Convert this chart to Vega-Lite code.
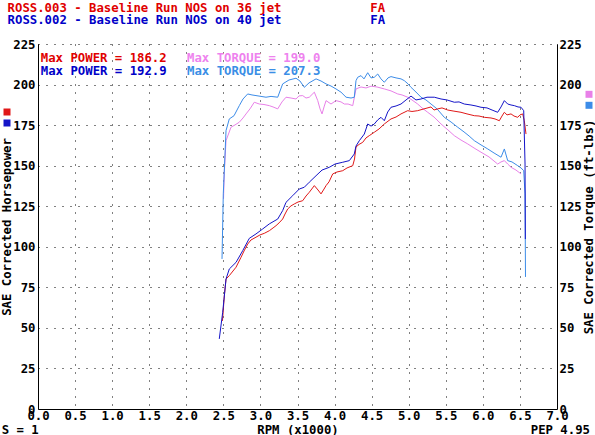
{
  "$schema": "https://vega.github.io/schema/vega-lite/v6.json",
  "width": 519,
  "height": 365,
  "autosize": {"type": "none"},
  "padding": {"left": 38, "top": 44, "right": 38, "bottom": 26},
  "background": "white",
  "title": {
    "text": "ROSS.003 - Baseline Run NOS on 36 jet\u00a0\u00a0\u00a0\u00a0\u00a0\u00a0\u00a0\u00a0\u00a0\u00a0\u00a0\u00a0FA",
    "subtitle": "ROSS.002 - Baseline Run NOS on 40 jet\u00a0\u00a0\u00a0\u00a0\u00a0\u00a0\u00a0\u00a0\u00a0\u00a0\u00a0\u00a0FA",
    "anchor": "start",
    "frame": "group",
    "dx": -30.4,
    "offset": 11.8,
    "font": "DejaVu Sans Mono",
    "fontSize": 12.3,
    "fontWeight": "bold",
    "color": "#e00000",
    "subtitleFont": "DejaVu Sans Mono",
    "subtitleFontSize": 12.3,
    "subtitleFontWeight": "bold",
    "subtitleColor": "#0000c8",
    "subtitlePadding": -0.5
  },
  "config": {
    "view": {"stroke": null},
    "font": "DejaVu Sans Mono",
    "axis": {
      "labelFont": "DejaVu Sans Mono",
      "labelFontSize": 12.3,
      "labelFontWeight": "bold",
      "labelColor": "#000",
      "titleFont": "DejaVu Sans Mono",
      "titleFontSize": 12.3,
      "titleFontWeight": "bold",
      "titleColor": "#000",
      "domainColor": "#000",
      "domainWidth": 1,
      "ticks": false,
      "labelFlush": false,
      "labelOverlap": false,
      "labelBound": false,
      "gridColor": "#000",
      "gridDash": [1, 7],
      "gridWidth": 1,
      "gridOpacity": 1
    }
  },
  "datasets": {
    "power": [
      {"run":"ROSS.003","rpm":2.488,"hp":54.3},{"run":"ROSS.003","rpm":2.513,"hp":69.7},{"run":"ROSS.003","rpm":2.536,"hp":80.1},{"run":"ROSS.003","rpm":2.58,"hp":82.2},{"run":"ROSS.003","rpm":2.671,"hp":87.4},{"run":"ROSS.003","rpm":2.738,"hp":93.5},{"run":"ROSS.003","rpm":2.779,"hp":97.4},{"run":"ROSS.003","rpm":2.828,"hp":101.7},{"run":"ROSS.003","rpm":2.873,"hp":104.2},{"run":"ROSS.003","rpm":2.94,"hp":105.9},{"run":"ROSS.003","rpm":2.994,"hp":107.3},{"run":"ROSS.003","rpm":3.052,"hp":108.3},{"run":"ROSS.003","rpm":3.12,"hp":109.9},{"run":"ROSS.003","rpm":3.17,"hp":111.6},{"run":"ROSS.003","rpm":3.21,"hp":113.0},{"run":"ROSS.003","rpm":3.251,"hp":114.7},{"run":"ROSS.003","rpm":3.3,"hp":117.1},{"run":"ROSS.003","rpm":3.332,"hp":120.2},{"run":"ROSS.003","rpm":3.368,"hp":123.3},{"run":"ROSS.003","rpm":3.412,"hp":125.2},{"run":"ROSS.003","rpm":3.457,"hp":126.4},{"run":"ROSS.003","rpm":3.507,"hp":127.6},{"run":"ROSS.003","rpm":3.57,"hp":128.4},{"run":"ROSS.003","rpm":3.615,"hp":131.3},{"run":"ROSS.003","rpm":3.659,"hp":133.6},{"run":"ROSS.003","rpm":3.727,"hp":137.7},{"run":"ROSS.003","rpm":3.777,"hp":135.0},{"run":"ROSS.003","rpm":3.817,"hp":132.6},{"run":"ROSS.003","rpm":3.858,"hp":135.6},{"run":"ROSS.003","rpm":3.885,"hp":137.7},{"run":"ROSS.003","rpm":3.925,"hp":140.0},{"run":"ROSS.003","rpm":3.975,"hp":144.9},{"run":"ROSS.003","rpm":4.033,"hp":146.1},{"run":"ROSS.003","rpm":4.11,"hp":146.9},{"run":"ROSS.003","rpm":4.168,"hp":148.6},{"run":"ROSS.003","rpm":4.245,"hp":150.0},{"run":"ROSS.003","rpm":4.269,"hp":154.1},{"run":"ROSS.003","rpm":4.289,"hp":161.5},{"run":"ROSS.003","rpm":4.33,"hp":163.1},{"run":"ROSS.003","rpm":4.38,"hp":164.4},{"run":"ROSS.003","rpm":4.424,"hp":167.1},{"run":"ROSS.003","rpm":4.468,"hp":168.5},{"run":"ROSS.003","rpm":4.536,"hp":170.6},{"run":"ROSS.003","rpm":4.599,"hp":172.6},{"run":"ROSS.003","rpm":4.671,"hp":175.7},{"run":"ROSS.003","rpm":4.761,"hp":178.8},{"run":"ROSS.003","rpm":4.829,"hp":180.0},{"run":"ROSS.003","rpm":4.896,"hp":181.9},{"run":"ROSS.003","rpm":4.986,"hp":183.9},{"run":"ROSS.003","rpm":5.044,"hp":183.4},{"run":"ROSS.003","rpm":5.121,"hp":183.9},{"run":"ROSS.003","rpm":5.206,"hp":185.0},{"run":"ROSS.003","rpm":5.301,"hp":186.2},{"run":"ROSS.003","rpm":5.341,"hp":184.3},{"run":"ROSS.003","rpm":5.391,"hp":185.0},{"run":"ROSS.003","rpm":5.449,"hp":185.6},{"run":"ROSS.003","rpm":5.526,"hp":184.3},{"run":"ROSS.003","rpm":5.598,"hp":183.7},{"run":"ROSS.003","rpm":5.705,"hp":182.9},{"run":"ROSS.003","rpm":5.786,"hp":181.9},{"run":"ROSS.003","rpm":5.885,"hp":180.8},{"run":"ROSS.003","rpm":5.948,"hp":180.6},{"run":"ROSS.003","rpm":6.02,"hp":179.8},{"run":"ROSS.003","rpm":6.11,"hp":179.4},{"run":"ROSS.003","rpm":6.164,"hp":178.8},{"run":"ROSS.003","rpm":6.222,"hp":177.7},{"run":"ROSS.003","rpm":6.258,"hp":180.6},{"run":"ROSS.003","rpm":6.29,"hp":182.9},{"run":"ROSS.003","rpm":6.326,"hp":181.3},{"run":"ROSS.003","rpm":6.38,"hp":181.9},{"run":"ROSS.003","rpm":6.42,"hp":180.6},{"run":"ROSS.003","rpm":6.47,"hp":179.8},{"run":"ROSS.003","rpm":6.501,"hp":181.3},{"run":"ROSS.003","rpm":6.537,"hp":181.9},{"run":"ROSS.003","rpm":6.559,"hp":177.7},{"run":"ROSS.003","rpm":6.582,"hp":169.5},
      {"run":"ROSS.002","rpm":2.445,"hp":43.2},{"run":"ROSS.002","rpm":2.491,"hp":59.6},{"run":"ROSS.002","rpm":2.536,"hp":80.1},{"run":"ROSS.002","rpm":2.58,"hp":86.3},{"run":"ROSS.002","rpm":2.671,"hp":90.4},{"run":"ROSS.002","rpm":2.761,"hp":97.6},{"run":"ROSS.002","rpm":2.85,"hp":105.2},{"run":"ROSS.002","rpm":2.94,"hp":107.9},{"run":"ROSS.002","rpm":3.031,"hp":111.0},{"run":"ROSS.002","rpm":3.12,"hp":114.1},{"run":"ROSS.002","rpm":3.233,"hp":117.1},{"run":"ROSS.002","rpm":3.3,"hp":122.3},{"run":"ROSS.002","rpm":3.345,"hp":127.4},{"run":"ROSS.002","rpm":3.435,"hp":131.5},{"run":"ROSS.002","rpm":3.524,"hp":135.6},{"run":"ROSS.002","rpm":3.592,"hp":136.7},{"run":"ROSS.002","rpm":3.659,"hp":139.8},{"run":"ROSS.002","rpm":3.75,"hp":143.8},{"run":"ROSS.002","rpm":3.831,"hp":147.3},{"run":"ROSS.002","rpm":3.929,"hp":149.0},{"run":"ROSS.002","rpm":4.006,"hp":151.0},{"run":"ROSS.002","rpm":4.11,"hp":152.1},{"run":"ROSS.002","rpm":4.199,"hp":153.1},{"run":"ROSS.002","rpm":4.266,"hp":157.2},{"run":"ROSS.002","rpm":4.289,"hp":162.1},{"run":"ROSS.002","rpm":4.334,"hp":165.4},{"run":"ROSS.002","rpm":4.401,"hp":169.5},{"run":"ROSS.002","rpm":4.447,"hp":175.7},{"run":"ROSS.002","rpm":4.492,"hp":174.4},{"run":"ROSS.002","rpm":4.536,"hp":175.7},{"run":"ROSS.002","rpm":4.582,"hp":178.2},{"run":"ROSS.002","rpm":4.626,"hp":179.8},{"run":"ROSS.002","rpm":4.671,"hp":177.7},{"run":"ROSS.002","rpm":4.717,"hp":183.1},{"run":"ROSS.002","rpm":4.761,"hp":186.0},{"run":"ROSS.002","rpm":4.829,"hp":186.8},{"run":"ROSS.002","rpm":4.896,"hp":188.0},{"run":"ROSS.002","rpm":4.964,"hp":190.5},{"run":"ROSS.002","rpm":5.031,"hp":192.9},{"run":"ROSS.002","rpm":5.098,"hp":190.5},{"run":"ROSS.002","rpm":5.166,"hp":191.1},{"run":"ROSS.002","rpm":5.247,"hp":192.2},{"run":"ROSS.002","rpm":5.345,"hp":192.2},{"run":"ROSS.002","rpm":5.436,"hp":191.1},{"run":"ROSS.002","rpm":5.517,"hp":190.5},{"run":"ROSS.002","rpm":5.615,"hp":189.1},{"run":"ROSS.002","rpm":5.679,"hp":189.3},{"run":"ROSS.002","rpm":5.75,"hp":188.0},{"run":"ROSS.002","rpm":5.84,"hp":187.4},{"run":"ROSS.002","rpm":5.908,"hp":186.8},{"run":"ROSS.002","rpm":5.975,"hp":186.0},{"run":"ROSS.002","rpm":6.056,"hp":185.6},{"run":"ROSS.002","rpm":6.124,"hp":184.3},{"run":"ROSS.002","rpm":6.2,"hp":182.9},{"run":"ROSS.002","rpm":6.245,"hp":186.2},{"run":"ROSS.002","rpm":6.29,"hp":190.1},{"run":"ROSS.002","rpm":6.335,"hp":188.0},{"run":"ROSS.002","rpm":6.38,"hp":187.4},{"run":"ROSS.002","rpm":6.425,"hp":187.0},{"run":"ROSS.002","rpm":6.474,"hp":186.2},{"run":"ROSS.002","rpm":6.515,"hp":186.0},{"run":"ROSS.002","rpm":6.551,"hp":183.9},{"run":"ROSS.002","rpm":6.569,"hp":151.0},{"run":"ROSS.002","rpm":6.573,"hp":104.8}
    ],
    "torque": [
      {"run":"ROSS.003","rpm":2.502,"tq":129.5},{"run":"ROSS.003","rpm":2.513,"tq":145.9},{"run":"ROSS.003","rpm":2.536,"tq":165.4},{"run":"ROSS.003","rpm":2.603,"tq":173.7},{"run":"ROSS.003","rpm":2.657,"tq":175.1},{"run":"ROSS.003","rpm":2.715,"tq":176.8},{"run":"ROSS.003","rpm":2.765,"tq":179.4},{"run":"ROSS.003","rpm":2.806,"tq":181.9},{"run":"ROSS.003","rpm":2.859,"tq":185.0},{"run":"ROSS.003","rpm":2.917,"tq":189.1},{"run":"ROSS.003","rpm":2.985,"tq":188.0},{"run":"ROSS.003","rpm":3.048,"tq":187.7},{"run":"ROSS.003","rpm":3.12,"tq":187.0},{"run":"ROSS.003","rpm":3.17,"tq":186.2},{"run":"ROSS.003","rpm":3.233,"tq":185.0},{"run":"ROSS.003","rpm":3.291,"tq":189.3},{"run":"ROSS.003","rpm":3.345,"tq":192.2},{"run":"ROSS.003","rpm":3.413,"tq":191.7},{"run":"ROSS.003","rpm":3.48,"tq":191.1},{"run":"ROSS.003","rpm":3.52,"tq":193.0},{"run":"ROSS.003","rpm":3.57,"tq":193.2},{"run":"ROSS.003","rpm":3.615,"tq":191.7},{"run":"ROSS.003","rpm":3.659,"tq":192.2},{"run":"ROSS.003","rpm":3.727,"tq":195.3},{"run":"ROSS.003","rpm":3.773,"tq":190.1},{"run":"ROSS.003","rpm":3.804,"tq":185.0},{"run":"ROSS.003","rpm":3.831,"tq":181.9},{"run":"ROSS.003","rpm":3.858,"tq":186.2},{"run":"ROSS.003","rpm":3.885,"tq":190.1},{"run":"ROSS.003","rpm":3.952,"tq":188.0},{"run":"ROSS.003","rpm":4.019,"tq":190.1},{"run":"ROSS.003","rpm":4.087,"tq":189.3},{"run":"ROSS.003","rpm":4.132,"tq":188.0},{"run":"ROSS.003","rpm":4.182,"tq":188.0},{"run":"ROSS.003","rpm":4.245,"tq":187.0},{"run":"ROSS.003","rpm":4.289,"tq":197.3},{"run":"ROSS.003","rpm":4.357,"tq":198.5},{"run":"ROSS.003","rpm":4.424,"tq":197.9},{"run":"ROSS.003","rpm":4.492,"tq":199.0},{"run":"ROSS.003","rpm":4.573,"tq":198.5},{"run":"ROSS.003","rpm":4.671,"tq":197.3},{"run":"ROSS.003","rpm":4.761,"tq":196.1},{"run":"ROSS.003","rpm":4.852,"tq":194.2},{"run":"ROSS.003","rpm":4.91,"tq":193.6},{"run":"ROSS.003","rpm":4.986,"tq":192.2},{"run":"ROSS.003","rpm":5.044,"tq":190.5},{"run":"ROSS.003","rpm":5.121,"tq":188.0},{"run":"ROSS.003","rpm":5.179,"tq":185.6},{"run":"ROSS.003","rpm":5.256,"tq":182.9},{"run":"ROSS.003","rpm":5.341,"tq":180.0},{"run":"ROSS.003","rpm":5.436,"tq":175.7},{"run":"ROSS.003","rpm":5.53,"tq":172.0},{"run":"ROSS.003","rpm":5.615,"tq":168.5},{"run":"ROSS.003","rpm":5.705,"tq":165.8},{"run":"ROSS.003","rpm":5.796,"tq":163.4},{"run":"ROSS.003","rpm":5.881,"tq":160.9},{"run":"ROSS.003","rpm":5.975,"tq":158.3},{"run":"ROSS.003","rpm":6.083,"tq":155.4},{"run":"ROSS.003","rpm":6.2,"tq":151.0},{"run":"ROSS.003","rpm":6.245,"tq":152.3},{"run":"ROSS.003","rpm":6.29,"tq":153.1},{"run":"ROSS.003","rpm":6.335,"tq":151.0},{"run":"ROSS.003","rpm":6.38,"tq":149.0},{"run":"ROSS.003","rpm":6.447,"tq":147.3},{"run":"ROSS.003","rpm":6.515,"tq":144.9},
      {"run":"ROSS.002","rpm":2.482,"tq":92.5},{"run":"ROSS.002","rpm":2.499,"tq":132.6},{"run":"ROSS.002","rpm":2.536,"tq":171.6},{"run":"ROSS.002","rpm":2.58,"tq":178.8},{"run":"ROSS.002","rpm":2.644,"tq":180.8},{"run":"ROSS.002","rpm":2.715,"tq":187.0},{"run":"ROSS.002","rpm":2.765,"tq":191.1},{"run":"ROSS.002","rpm":2.828,"tq":194.2},{"run":"ROSS.002","rpm":2.886,"tq":193.6},{"run":"ROSS.002","rpm":2.94,"tq":193.2},{"run":"ROSS.002","rpm":3.008,"tq":192.7},{"run":"ROSS.002","rpm":3.075,"tq":192.2},{"run":"ROSS.002","rpm":3.143,"tq":192.7},{"run":"ROSS.002","rpm":3.233,"tq":192.2},{"run":"ROSS.002","rpm":3.3,"tq":200.4},{"run":"ROSS.002","rpm":3.385,"tq":202.8},{"run":"ROSS.002","rpm":3.48,"tq":203.9},{"run":"ROSS.002","rpm":3.533,"tq":202.2},{"run":"ROSS.002","rpm":3.592,"tq":198.3},{"run":"ROSS.002","rpm":3.655,"tq":201.0},{"run":"ROSS.002","rpm":3.75,"tq":203.5},{"run":"ROSS.002","rpm":3.817,"tq":202.2},{"run":"ROSS.002","rpm":3.885,"tq":200.4},{"run":"ROSS.002","rpm":3.952,"tq":199.1},{"run":"ROSS.002","rpm":4.019,"tq":197.3},{"run":"ROSS.002","rpm":4.087,"tq":195.3},{"run":"ROSS.002","rpm":4.155,"tq":192.2},{"run":"ROSS.002","rpm":4.222,"tq":191.7},{"run":"ROSS.002","rpm":4.266,"tq":192.2},{"run":"ROSS.002","rpm":4.289,"tq":202.4},{"run":"ROSS.002","rpm":4.312,"tq":204.5},{"run":"ROSS.002","rpm":4.357,"tq":205.5},{"run":"ROSS.002","rpm":4.397,"tq":203.5},{"run":"ROSS.002","rpm":4.447,"tq":207.3},{"run":"ROSS.002","rpm":4.492,"tq":204.1},{"run":"ROSS.002","rpm":4.536,"tq":204.5},{"run":"ROSS.002","rpm":4.582,"tq":206.5},{"run":"ROSS.002","rpm":4.626,"tq":203.5},{"run":"ROSS.002","rpm":4.671,"tq":201.4},{"run":"ROSS.002","rpm":4.721,"tq":204.1},{"run":"ROSS.002","rpm":4.761,"tq":204.9},{"run":"ROSS.002","rpm":4.829,"tq":204.1},{"run":"ROSS.002","rpm":4.896,"tq":203.5},{"run":"ROSS.002","rpm":4.941,"tq":202.4},{"run":"ROSS.002","rpm":4.991,"tq":200.4},{"run":"ROSS.002","rpm":5.031,"tq":198.3},{"run":"ROSS.002","rpm":5.098,"tq":195.4},{"run":"ROSS.002","rpm":5.166,"tq":192.2},{"run":"ROSS.002","rpm":5.233,"tq":190.5},{"run":"ROSS.002","rpm":5.301,"tq":188.0},{"run":"ROSS.002","rpm":5.382,"tq":185.0},{"run":"ROSS.002","rpm":5.48,"tq":179.8},{"run":"ROSS.002","rpm":5.571,"tq":176.9},{"run":"ROSS.002","rpm":5.661,"tq":173.7},{"run":"ROSS.002","rpm":5.746,"tq":170.8},{"run":"ROSS.002","rpm":5.814,"tq":168.3},{"run":"ROSS.002","rpm":5.885,"tq":165.4},{"run":"ROSS.002","rpm":5.975,"tq":162.8},{"run":"ROSS.002","rpm":6.066,"tq":160.3},{"run":"ROSS.002","rpm":6.151,"tq":157.8},{"run":"ROSS.002","rpm":6.245,"tq":155.2},{"run":"ROSS.002","rpm":6.29,"tq":160.3},{"run":"ROSS.002","rpm":6.335,"tq":153.1},{"run":"ROSS.002","rpm":6.393,"tq":152.3},{"run":"ROSS.002","rpm":6.47,"tq":150.0},{"run":"ROSS.002","rpm":6.515,"tq":148.6},{"run":"ROSS.002","rpm":6.551,"tq":146.9},{"run":"ROSS.002","rpm":6.569,"tq":132.6},{"run":"ROSS.002","rpm":6.575,"tq":81.4}
    ]
  },
  "layer": [
    {
      "data": {"name": "torque"},
      "mark": {"type": "line", "strokeWidth": 1},
      "encoding": {
        "x": {
          "field": "rpm", "type": "quantitative",
          "scale": {"domain": [0, 7], "nice": false},
          "axis": {
            "orient": "bottom",
            "values": [0,1,2,3,4,5,6,7],
            "format": ".1f", "grid": true, "labelPadding": 0,
            "labelOverlap": false, "labelFlush": false, "labelBound": false,
            "title": "RPM (x1000)", "titleY": 20, "titleBaseline": "middle"
          }
        },
        "y": {
          "field": "tq", "type": "quantitative",
          "scale": {"domain": [0, 225], "nice": false},
          "axis": {
            "orient": "right", "values": [0,25,50,75,100,125,150,175,200,225],
            "grid": false, "labelPadding": 2, "labelOverlap": false,
            "title": "SAE Corrected Torque (ft-lbs)",
            "titleAngle": -90, "titleX": 31, "titleY": 182.5,
            "titleAlign": "center", "titleBaseline": "middle"
          }
        },
        "color": {
          "field": "run", "type": "nominal",
          "scale": {"domain": ["ROSS.003", "ROSS.002"], "range": ["#e880e8", "#3c8ce8"]},
          "legend": {
            "orient": "none", "legendX": 544, "legendY": 43.3, "title": null,
            "padding": 0, "direction": "vertical",
            "symbolType": "stroke", "symbolSize": 49, "symbolStrokeWidth": 7,
            "labelExpr": "''", "labelFontSize": 7, "labelOffset": 0, "rowPadding": -3,
            "encode": {"symbols": {"update": {"strokeJoin": {"value": "bevel"}}}}
          }
        }
      }
    },
    {
      "layer": [
        {
          "data": {"name": "power"},
          "mark": {"type": "line", "strokeWidth": 1},
          "encoding": {
            "x": {
              "field": "rpm", "type": "quantitative",
              "scale": {"domain": [0, 7], "nice": false},
              "axis": {
                "orient": "bottom",
                "values": [0.5,1.5,2.5,3.5,4.5,5.5,6.5],
                "format": ".1f", "grid": true, "labelPadding": 0, "domain": false,
                "labelOverlap": false, "labelFlush": false, "labelBound": false,
                "title": null
              }
            },
            "y": {
              "field": "hp", "type": "quantitative",
              "scale": {"domain": [0, 225], "nice": false},
              "axis": {
                "values": [0,25,50,75,100,125,150,175,200,225],
                "grid": true, "labelPadding": 3, "labelOverlap": false,
                "title": "SAE Corrected Horsepower",
                "titleAngle": -90, "titleX": -32, "titleY": 182.5,
                "titleAlign": "center", "titleBaseline": "middle"
              }
            },
            "color": {
              "field": "run", "type": "nominal",
              "scale": {"domain": ["ROSS.003", "ROSS.002"], "range": ["#e01818", "#1414c8"]},
              "legend": {
                "orient": "none", "legendX": -38, "legendY": 61, "title": null,
                "padding": 0, "direction": "vertical",
                "symbolType": "stroke", "symbolSize": 49, "symbolStrokeWidth": 7,
                "labelExpr": "''", "labelFontSize": 7, "labelOffset": 0, "rowPadding": -2.4,
                "encode": {"symbols": {"update": {"strokeJoin": {"value": "bevel"}}}}
              }
            }
          }
        },
        {
          "data": {"values": [{"label": "Max POWER = 186.2"}]},
          "mark": {"type": "text", "align": "left", "baseline": "middle", "font": "DejaVu Sans Mono", "fontSize": 12.3, "fontWeight": "bold", "color": "#e00000"},
          "encoding": {
            "text": {"field": "label"},
            "x": {"datum": 0.038, "type": "quantitative", "scale": {"domain": [0, 7], "nice": false}},
            "y": {"datum": 216.4, "type": "quantitative", "scale": {"domain": [0, 225], "nice": false}}
          }
        },
        {
          "data": {"values": [{"label": "Max POWER = 192.9"}]},
          "mark": {"type": "text", "align": "left", "baseline": "middle", "font": "DejaVu Sans Mono", "fontSize": 12.3, "fontWeight": "bold", "color": "#0000c8"},
          "encoding": {
            "text": {"field": "label"},
            "x": {"datum": 0.038, "type": "quantitative", "scale": {"domain": [0, 7], "nice": false}},
            "y": {"datum": 208.6, "type": "quantitative", "scale": {"domain": [0, 225], "nice": false}}
          }
        },
        {
          "data": {"values": [{"label": "Max TORQUE = 199.0"}]},
          "mark": {"type": "text", "align": "left", "baseline": "middle", "font": "DejaVu Sans Mono", "fontSize": 12.3, "fontWeight": "bold", "color": "#ee82ee"},
          "encoding": {
            "text": {"field": "label"},
            "x": {"datum": 2.01, "type": "quantitative", "scale": {"domain": [0, 7], "nice": false}},
            "y": {"datum": 216.4, "type": "quantitative", "scale": {"domain": [0, 225], "nice": false}}
          }
        },
        {
          "data": {"values": [{"label": "Max TORQUE = 207.3"}]},
          "mark": {"type": "text", "align": "left", "baseline": "middle", "font": "DejaVu Sans Mono", "fontSize": 12.3, "fontWeight": "bold", "color": "#3a8ee6"},
          "encoding": {
            "text": {"field": "label"},
            "x": {"datum": 2.01, "type": "quantitative", "scale": {"domain": [0, 7], "nice": false}},
            "y": {"datum": 208.6, "type": "quantitative", "scale": {"domain": [0, 225], "nice": false}}
          }
        },
        {
          "data": {"values": [{"label": "S = 1"}]},
          "mark": {"type": "text", "align": "left", "baseline": "middle", "font": "DejaVu Sans Mono", "fontSize": 12.3, "fontWeight": "bold", "color": "#000"},
          "encoding": {
            "text": {"field": "label"},
            "x": {"datum": -0.49, "type": "quantitative", "scale": {"domain": [0, 7], "nice": false}},
            "y": {"datum": -12.7, "type": "quantitative", "scale": {"domain": [0, 225], "nice": false}}
          }
        },
        {
          "data": {"values": [{"label": "PEP 4.95"}]},
          "mark": {"type": "text", "align": "right", "baseline": "middle", "font": "DejaVu Sans Mono", "fontSize": 12.3, "fontWeight": "bold", "color": "#000"},
          "encoding": {
            "text": {"field": "label"},
            "x": {"datum": 7.445, "type": "quantitative", "scale": {"domain": [0, 7], "nice": false}},
            "y": {"datum": -12.9, "type": "quantitative", "scale": {"domain": [0, 225], "nice": false}}
          }
        }
      ]
    }
  ],
  "resolve": {"scale": {"y": "independent", "color": "independent"}, "axis": {"x": "independent"}}
}
